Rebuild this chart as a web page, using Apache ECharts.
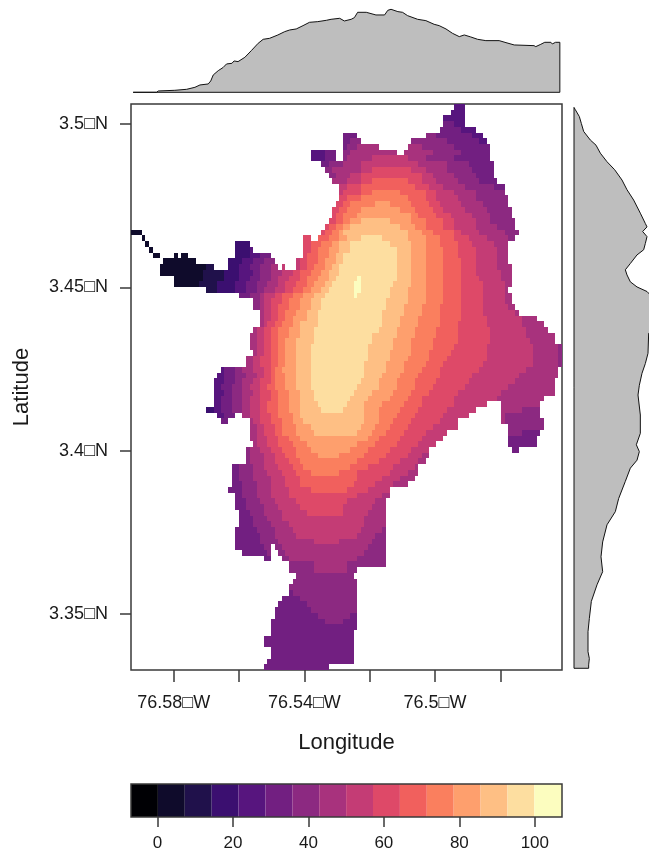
<!DOCTYPE html>
<html>
<head>
<meta charset="utf-8">
<style>html,body{margin:0;padding:0;background:#fff;overflow:hidden}#c{width:649px;height:854px}</style>
<script src="https://cdn.jsdelivr.net/npm/echarts@6/dist/echarts.min.js"></script>
</head>
<body>
<div id="c"></div>
<script>
// Colour classes and their break points
const levelColors = ['#000004','#0F0B2B','#20114B','#3B0F70','#57157E','#721F81','#8C2981','#A8327D','#C43C75','#DE4968','#F1605D','#FA7F5E','#FE9F6D','#FEBF84','#FDDEA0','#FCFDBF'];
const levelBreaks = [-7,0.125,7.25,14.375,21.5,28.625,35.75,42.875,50,57.125,64.25,71.375,78.5,85.625,92.75,99.875,107.2];
const legendTicks = [0,20,40,60,80,100];

// Raster grid size
const nCols = 120, nRows = 99;

// Map extent and ticks
const lonMin = -76.5931, lonMax = -76.4611;
const latMin = 3.33285, latMax = 3.50612;
const lonTicks = [-76.58,-76.56,-76.54,-76.52,-76.5,-76.48];
const lonLabelTicks = [-76.58,-76.54,-76.5];
const lonLabels = ['76.58\u25A1W','76.54\u25A1W','76.5\u25A1W'];
const latTicks = [3.5,3.45,3.4,3.35];
const latLabels = ['3.5\u25A1N','3.45\u25A1N','3.4\u25A1N','3.35\u25A1N'];

// Raster rows, north to south: startCol, class, endCol, class, endCol ... (class 0 = no data)
const rasterRows = [
[90,4,93],
[89,4,93],
[87,4,93],
[87,5,90,4,93],
[86,5,92,4,96],
[59,5,63,0,82,6,85,5,95,4,98],
[59,5,61,6,64,0,78,6,88,5,97,4,99],
[59,5,60,6,63,7,69,0,77,7,81,6,90,5,100],
[50,4,54,5,57,0,59,6,61,7,74,0,76,7,84,6,92,5,100],
[50,4,54,5,57,0,59,6,60,7,67,8,77,7,82,6,90,5,100],
[53,5,55,6,59,7,64,8,80,7,88,6,94,5,101],
[54,6,56,7,64,8,67,9,78,8,82,7,88,6,95,5,101],
[55,6,57,7,61,8,64,9,81,8,84,7,90,6,96,5,101],
[56,7,60,8,64,9,67,10,77,9,81,8,85,7,91,6,97,5,102],
[58,8,60,9,64,10,79,9,83,8,87,7,93,6,101,5,104],
[58,8,59,9,64,10,67,11,75,10,82,9,85,8,90,7,96,6,104],
[58,9,60,10,64,11,77,10,82,9,85,8,91,7,96,6,105],
[57,9,59,10,61,11,68,12,72,11,78,10,83,9,86,8,92,7,98,6,105],
[56,9,58,10,60,11,64,12,75,11,79,10,84,9,87,8,93,7,99,6,106],
[56,9,57,10,59,11,63,12,78,11,80,10,85,9,89,8,95,7,100,6,106],
[55,9,57,10,59,11,61,12,64,13,72,12,78,11,82,10,87,9,90,8,96,7,100,6,107],
[54,9,55,10,57,11,59,12,61,13,75,12,79,11,82,10,87,9,90,8,96,7,102,6,107],
[0,1,3,0,53,9,54,10,56,11,58,12,59,13,77,12,81,11,84,10,90,9,92,8,97,7,104,6,108],
[3,1,4,0,48,9,50,0,52,10,55,11,58,12,60,13,64,14,70,13,77,12,82,11,86,10,90,9,94,8,99,7,105,6,107],
[4,1,5,0,29,3,33,0,48,9,50,10,53,11,56,12,58,13,61,14,72,13,78,12,82,11,86,10,91,9,95,8,101,7,105],
[5,1,6,0,29,3,33,4,34,0,48,9,50,10,52,11,55,12,58,13,61,14,74,13,78,12,82,11,87,10,91,9,96,8,102,7,105],
[6,1,8,0,12,1,13,0,14,1,16,0,29,3,33,4,36,5,39,0,48,9,49,10,52,11,55,12,57,13,59,14,74,13,78,12,82,11,87,10,91,9,96,8,102,7,105],
[9,1,18,0,27,3,31,4,34,5,37,6,40,0,46,8,47,9,49,10,52,11,54,12,57,13,59,14,74,13,78,12,82,11,87,10,92,9,96,8,102,7,105],
[8,1,21,2,23,0,27,3,30,4,33,5,36,6,39,7,41,0,42,8,43,0,46,8,47,9,49,10,51,11,54,12,56,13,58,14,74,13,78,12,82,11,87,10,92,9,96,8,102,7,106],
[8,1,20,2,26,3,30,4,34,5,36,6,39,7,42,8,45,9,47,10,50,11,53,12,55,13,58,14,74,13,78,12,82,11,87,10,92,9,96,8,103,7,106],
[12,1,20,2,26,3,30,4,33,5,36,6,39,7,41,8,44,9,47,10,49,11,52,12,55,13,57,14,63,15,64,14,74,13,78,12,82,11,87,10,92,9,97,8,103,7,106],
[12,1,19,2,24,3,29,4,32,5,35,6,38,7,41,8,43,9,46,10,49,11,51,12,54,13,56,14,62,15,64,14,73,13,78,12,82,11,87,10,92,9,98,8,104,7,106],
[21,2,24,3,29,4,32,5,35,6,37,7,40,8,43,9,45,10,48,11,50,12,53,13,55,14,62,15,64,14,72,13,77,12,82,11,87,10,92,9,98,8,104,7,105],
[30,5,33,6,36,7,37,8,40,9,42,10,45,11,48,12,51,13,54,14,62,15,63,14,72,13,77,12,82,11,87,10,92,9,98,8,104,7,106],
[34,6,36,7,37,8,39,9,42,10,44,11,47,12,50,13,53,14,71,13,77,12,82,11,87,10,92,9,98,8,104,7,106],
[34,6,36,7,37,8,39,9,41,10,44,11,47,12,50,13,53,14,71,13,76,12,81,11,86,10,92,9,98,8,105,7,107],
[36,7,37,8,39,9,41,10,43,11,46,12,49,13,52,14,70,13,76,12,81,11,86,10,92,9,98,8,107,7,108],
[36,7,37,8,39,9,41,10,43,11,45,12,49,13,52,14,70,13,75,12,80,11,86,10,92,9,99,8,109,7,113],
[36,7,37,8,38,9,40,10,42,11,45,12,47,13,52,14,70,13,75,12,80,11,86,10,91,9,99,8,109,7,115],
[34,7,35,8,37,9,39,10,41,11,44,12,47,13,51,14,69,13,74,12,79,11,85,10,91,9,100,8,110,7,116],
[33,7,35,8,37,9,39,10,41,11,44,12,47,13,51,14,67,13,74,12,79,11,85,10,91,9,100,8,110,7,118],
[33,7,35,8,37,9,39,10,41,11,43,12,46,13,51,14,67,13,73,12,78,11,84,10,91,9,100,8,111,7,118],
[33,7,35,8,37,9,39,10,41,11,43,12,46,13,50,14,66,13,73,12,78,11,84,10,90,9,99,8,112,7,119,6,120],
[34,7,35,8,37,9,39,10,41,11,43,12,46,13,50,14,66,13,72,12,78,11,83,10,89,9,99,8,112,7,119,6,120],
[32,7,34,8,36,9,39,10,41,11,43,12,46,13,50,14,66,13,72,12,77,11,83,10,88,9,99,8,112,7,119,6,120],
[32,7,34,8,36,9,39,10,41,11,43,12,46,13,50,14,65,13,71,12,76,11,82,10,87,9,98,8,112,7,119,6,120],
[25,4,26,5,29,6,31,7,34,8,37,9,39,10,40,11,42,12,46,13,50,14,65,13,71,12,76,11,81,10,86,9,97,8,110,7,119],
[24,4,26,5,29,6,32,7,35,8,37,9,39,10,40,11,43,12,46,13,50,14,65,13,70,12,75,11,80,10,86,9,95,8,108,7,119],
[23,4,26,5,29,6,31,7,34,8,36,9,39,10,40,11,43,12,46,13,50,14,64,13,69,12,74,11,79,10,85,9,94,8,107,7,118],
[23,4,25,5,28,6,31,7,33,8,36,9,38,10,40,11,43,12,46,13,50,14,63,13,69,12,74,11,79,10,84,9,93,8,105,7,118],
[23,4,26,5,28,6,31,7,34,8,36,9,39,10,41,11,44,12,47,13,51,14,62,13,67,12,73,11,78,10,83,9,91,8,103,7,118],
[23,4,25,5,28,6,31,7,33,8,36,9,39,10,41,11,44,12,47,13,51,14,61,13,66,12,72,11,77,10,81,9,90,8,102,7,115],
[23,4,25,5,28,6,31,7,33,8,36,9,38,10,41,11,44,12,47,13,52,14,60,13,65,12,70,11,76,10,81,9,90,8,99,0,103,7,114],
[21,3,23,4,25,5,28,6,31,7,33,8,36,9,38,10,41,11,44,12,47,13,53,14,59,13,65,12,69,11,75,10,80,9,88,8,96,0,103,7,109,6,114],
[24,4,26,5,29,0,31,7,33,8,36,9,39,10,41,11,45,12,47,13,65,12,69,11,74,10,79,9,87,8,94,0,103,7,104,6,114],
[25,5,27,0,33,7,34,8,36,9,39,10,42,11,45,12,48,13,65,12,69,11,73,10,78,9,86,8,91,0,103,7,104,6,115],
[33,7,35,8,37,9,40,10,42,11,46,12,50,13,64,12,68,11,72,10,77,9,84,8,91,0,105,6,115],
[33,7,35,8,37,9,40,10,42,11,46,12,51,13,63,12,67,11,71,10,76,9,82,8,88,0,105,6,109,5,114],
[33,7,35,8,38,9,41,10,44,11,47,12,66,11,69,10,75,9,81,8,87,0,105,5,113],
[34,7,35,8,38,9,41,10,45,11,49,12,63,11,68,10,74,9,80,8,85,0,105,5,113],
[32,6,33,7,36,8,39,9,42,10,46,11,50,12,61,11,66,10,72,9,78,8,83,0,106,5,108],
[32,6,33,7,37,8,40,9,43,10,46,11,52,12,58,11,65,10,71,9,77,8,81,7,83],
[32,6,33,7,37,8,40,9,44,10,47,11,63,10,69,9,75,8,80,7,82],
[28,5,30,6,34,7,37,8,41,9,45,10,48,11,61,10,66,9,73,8,79,7,80],
[28,5,30,6,34,7,38,8,42,9,46,10,50,11,58,10,63,9,72,8,77,7,80],
[28,5,30,6,34,7,39,8,43,9,47,10,63,9,70,8,75,7,79],
[28,5,31,6,35,7,39,8,43,9,47,10,62,9,68,8,73,7,77],
[27,5,31,6,35,7,39,8,44,9,50,10,60,9,66,8,72],
[29,5,31,6,35,7,39,8,44,9,63,8,70,7,72],
[29,5,32,6,36,7,40,8,46,9,60,8,68,7,71],
[29,5,32,6,37,7,41,8,47,9,59,8,67,7,71],
[30,5,33,6,37,7,42,8,49,9,59,8,66,7,71],
[30,5,34,6,38,7,42,8,65,7,71],
[30,5,34,6,39,7,44,8,65,7,71],
[29,5,35,6,40,7,45,8,64,7,70,6,71],
[29,5,36,6,40,7,46,8,63,7,68,6,71],
[29,5,36,6,41,7,51,8,58,7,67,6,71],
[29,5,37,6,39,0,40,6,42,7,66,6,71],
[31,5,38,6,39,0,41,6,43,7,65,6,71],
[37,5,39,0,42,6,44,7,63,6,71],
[44,6,51,7,60,6,71],
[44,6,51,7,60,6,63],
[46,6,62],
[45,6,63],
[44,6,63],
[44,5,45,6,63],
[42,5,47,6,63],
[41,5,49,6,63],
[40,5,50,6,63],
[40,5,52,6,61,5,63],
[39,5,54,6,59,5,63],
[39,5,63],
[39,5,62],
[37,5,62],
[37,5,62],
[39,5,62],
[39,5,62],
[38,5,62],
[37,5,55]
];

// Marginal means: along columns (top) and along rows (right)
const topCols = [0.6,7.1,7.6,12.2,15.5,17.8,19.2,21.5,22.2,22.9,24.3,25.6,26.6,28.1,28.7,29.8,31.7,33.5,35.4,36.8,38.6,40.9,42.8,44.2,46,47.9,49.7,52,54.4,55.7,58.1,59.4,61.3,62.2,63.1,65.5,68.2,70.6,71.5,72.4,74.3,75.6,77,79.8,82.1,84.4,85.8,87.7,89.5,91.4,92.8,94.6,96.5,98.8,102.5,104.4,106.7,112.2,112.7,114.1,115.2,116.9,117.3,118.2,119.4,119.4];
const topMeans = [0,0,0.8,1.2,1.8,3,4.4,5,6.8,10.4,13,14.8,17,17.4,18.8,18.4,21,25,29.4,31.8,32.4,34.4,36.4,37.4,38,40,42,42.4,43.2,43.8,44.4,42.8,43.8,44.8,48,48,46.4,46.4,49.2,49.8,48.4,48,46,43.8,43,40.8,40,38,35.4,33.4,34.4,33.2,31.8,31,31,29.8,28.4,28,27.4,28.8,30,30,29,30,30,0];
const rightRows = [0.6,1,2.2,3.4,4.8,6.3,7.2,8.6,10.1,11.5,13.3,15,16.8,19.1,20.9,21.5,22.3,23.2,24.4,25.5,26.4,27.9,29,29.9,31.1,32,32.8,33.7,36,39.5,40.1,43.6,45.4,47.1,49.2,50.9,54.4,57.6,59.6,60.8,62.3,63.7,66,69,71.3,73.6,76.6,79.2,81.8,84.1,87,90,92.3,95.8,97,98.1,98.7,98.7];
const rightMeans = [0,0.8,3.2,4.4,5.8,9.8,13.2,15.8,19.8,24.4,28.8,31.8,35.8,39.8,42.8,43.8,41.2,43.8,42.8,41.8,37.8,33.8,30.8,31.8,33.8,37.8,43.8,46.8,48.4,47.2,44.8,44.4,42.8,40.8,39.2,38.4,39.8,39.8,37.4,39.2,37.8,33.8,30.8,26.8,24.8,19.8,17.2,16.2,17.2,13.8,10.4,9.2,8.4,8.4,9.2,8.8,8.8,0];

const textColor = '#1a1a1a', frameColor = '#3a3a3a', marginFill = '#BEBEBE';
const fontFamily = '"Liberation Sans", Arial, sans-serif';

// Build raster runs [startCol, endCol, row, value] from the raster rows
const levelValue = l => (levelBreaks[l] + levelBreaks[l + 1]) / 2;
const runs = [];
rasterRows.forEach((row, r) => {
  for (let i = 0; i + 2 < row.length; i += 2) {
    if (row[i + 1]) runs.push([row[i], row[i + 2], r, levelValue(row[i + 1])]);
  }
});
const legendCells = levelColors.map((_, i) => [levelBreaks[i], levelBreaks[i + 1], i]);
const pieces = levelColors.map((color, i) => ({min: levelBreaks[i], max: levelBreaks[i + 1], color}));

function outline(pairs) {
  return (params, api) => {
    if (params.dataIndex !== 0) return null;
    return {
      type: 'polygon',
      shape: {points: pairs.map(p => api.coord(p))},
      style: {fill: marginFill, stroke: '#111', lineWidth: 1}
    };
  };
}
const topPairs = topCols.map((c, i) => [c, topMeans[i]]);
const rightPairs = rightRows.map((r, i) => [rightMeans[i], r]);

const hidden = {show: false};
const option = {
  animation: false,
  backgroundColor: '#fff',
  textStyle: {fontFamily},
  grid: [
    {left: 131, top: 104, width: 431, height: 566, show: true, borderColor: frameColor, borderWidth: 1.5, backgroundColor: '#fff', outerBoundsMode: 'none'},
    {left: 131, top: 5, width: 431, height: 87.3, outerBoundsMode: 'none'},
    {left: 574, top: 104, width: 100, height: 566, outerBoundsMode: 'none'},
    {left: 131, top: 784, width: 431, height: 33, show: true, borderColor: frameColor, borderWidth: 1.5, z: 5, outerBoundsMode: 'none'}
  ],
  xAxis: [
    {type: 'value', gridIndex: 0, min: 0, max: nCols, show: false},
    {type: 'value', gridIndex: 0, min: lonMin, max: lonMax, position: 'bottom',
      name: 'Longitude', nameLocation: 'middle', nameGap: 62,
      nameTextStyle: {fontSize: 22, color: textColor, fontFamily},
      axisLine: {show: false}, splitLine: hidden,
      axisTick: {show: true, length: 12, customValues: lonTicks, lineStyle: {color: frameColor, width: 1.5}},
      axisLabel: {show: true, customValues: lonLabelTicks, margin: 24, fontSize: 18, color: textColor, fontFamily,
        formatter: v => lonLabels[lonLabelTicks.findIndex(t => Math.abs(t - v) < 1e-6)]}},
    {type: 'value', gridIndex: 1, min: 0, max: nCols, show: false},
    {type: 'value', gridIndex: 2, min: 0, max: 60, show: false},
    {type: 'value', gridIndex: 3, min: levelBreaks[0], max: levelBreaks[16], position: 'bottom',
      axisLine: {show: false}, splitLine: hidden,
      axisTick: {show: true, length: 10, customValues: legendTicks, lineStyle: {color: frameColor, width: 1.5}},
      axisLabel: {show: true, customValues: legendTicks, margin: 18, fontSize: 17, color: textColor, fontFamily}}
  ],
  yAxis: [
    {type: 'value', gridIndex: 0, min: 0, max: nRows, inverse: true, show: false},
    {type: 'value', gridIndex: 0, min: latMin, max: latMax, position: 'left',
      name: 'Latitude', nameLocation: 'middle', nameGap: 98, nameRotate: 90,
      nameTextStyle: {fontSize: 22, color: textColor, fontFamily},
      axisLine: {show: false}, splitLine: hidden,
      axisTick: {show: true, length: 11, customValues: latTicks, lineStyle: {color: frameColor, width: 1.5}},
      axisLabel: {show: true, customValues: latTicks, margin: 23, fontSize: 18, color: textColor, fontFamily,
        formatter: v => latLabels[latTicks.findIndex(t => Math.abs(t - v) < 1e-6)]}},
    {type: 'value', gridIndex: 1, min: 0, max: 52.38, show: false},
    {type: 'value', gridIndex: 2, min: 0, max: nRows, inverse: true, show: false},
    {type: 'value', gridIndex: 3, min: 0, max: 1, show: false}
  ],
  visualMap: {type: 'piecewise', show: false, seriesIndex: 0, dimension: 3, pieces},
  series: [
    {type: 'custom', name: 'raster', xAxisIndex: 0, yAxisIndex: 0, data: runs, coordinateSystem: 'cartesian2d',
      encode: {x: [0, 1], y: 2}, progressive: 0,
      renderItem: (params, api) => {
        const a = api.coord([api.value(0), api.value(2)]);
        const b = api.coord([api.value(1), api.value(2) + 1]);
        const x0 = Math.round(a[0]), x1 = Math.round(b[0]), y0 = Math.round(a[1]), y1 = Math.round(b[1]);
        return {type: 'rect', shape: {x: x0, y: y0, width: x1 - x0, height: y1 - y0},
          style: {fill: api.visual('color')}};
      }},
    {type: 'custom', name: 'column means', xAxisIndex: 2, yAxisIndex: 2, data: topPairs, coordinateSystem: 'cartesian2d', clip: false, renderItem: outline(topPairs)},
    {type: 'custom', name: 'row means', xAxisIndex: 3, yAxisIndex: 3, data: rightPairs, coordinateSystem: 'cartesian2d', clip: false, renderItem: outline(rightPairs)},
    {type: 'custom', name: 'colour key', xAxisIndex: 4, yAxisIndex: 4, data: legendCells, coordinateSystem: 'cartesian2d',
      encode: {x: [0, 1]},
      renderItem: (params, api) => {
        const a = api.coord([api.value(0), 1]);
        const b = api.coord([api.value(1), 0]);
        return {type: 'rect', shape: {x: a[0], y: a[1], width: b[0] - a[0], height: b[1] - a[1]},
          style: {fill: levelColors[api.value(2)]}};
      }}
  ]
};
const chart = echarts.init(document.getElementById('c'), null, {renderer: 'canvas', width: 649, height: 854});
chart.setOption(option);
</script>
</body>
</html>
